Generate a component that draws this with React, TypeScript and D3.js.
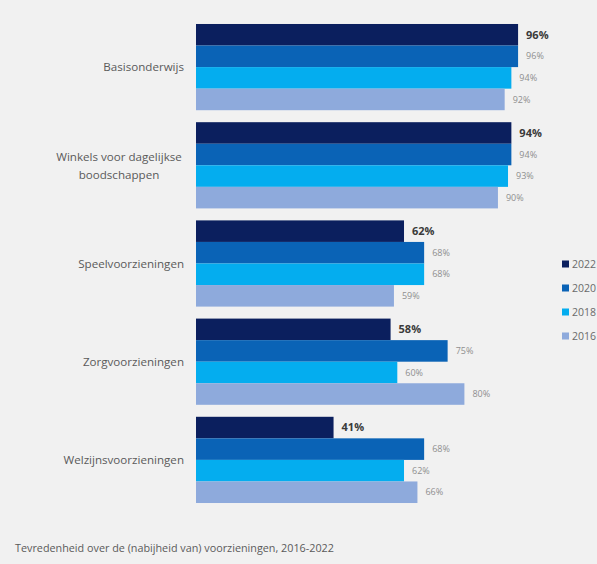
import React from "react";
import * as d3 from "d3";

const categories = [
  "Basisonderwijs",
  "Winkels voor dagelijkse boodschappen",
  "Speelvoorzieningen",
  "Zorgvoorzieningen",
  "Welzijnsvoorzieningen",
];
const categoryLines: string[][] = [
  ["Basisonderwijs"],
  ["Winkels voor dagelijkse", "boodschappen"],
  ["Speelvoorzieningen"],
  ["Zorgvoorzieningen"],
  ["Welzijnsvoorzieningen"],
];
const years = ["2022", "2020", "2018", "2016"];
const values2022 = [96, 94, 62, 58, 41];
const values2020 = [96, 94, 68, 75, 68];
const values2018 = [94, 93, 68, 60, 62];
const values2016 = [92, 90, 59, 80, 66];
const seriesValues = [values2022, values2020, values2018, values2016];
const colors = ["#0b1f5e", "#0a63b6", "#04adef", "#8eaadc"];
const caption = "Tevredenheid over de (nabijheid van) voorzieningen, 2016-2022";

const W = 597;
const H = 564;

export default function App() {
  const x = d3.scaleLinear().domain([0, 100]).range([196, 531.5]);
  const y = d3
    .scaleBand<string>()
    .domain(categories)
    .range([18, 509])
    .paddingInner(0.122)
    .paddingOuter(0.061);
  const yInner = d3.scaleBand<string>().domain(years).range([0, y.bandwidth()]);
  const legendY = d3.scalePoint<string>().domain(years).range([264, 336]);
  const font = "'Open Sans', sans-serif";

  return (
    <svg
      width={W}
      height={H}
      style={{ position: "absolute", left: 0, top: 0, display: "block" }}
      fontFamily={font}
    >
      <rect x={0} y={0} width={W} height={H} fill="#f1f1f1" />
      {categories.map((c, ci) => {
        const y0 = y(c)!;
        const cy = y0 + y.bandwidth() / 2;
        const lines = categoryLines[ci];
        return (
          <g key={c}>
            {years.map((yr, si) => {
              const v = seriesValues[si][ci];
              const by = y0 + yInner(yr)!;
              const bold = si === 0;
              return (
                <g key={yr}>
                  <rect
                    x={x(0)}
                    y={by}
                    width={x(v) - x(0)}
                    height={yInner.bandwidth()}
                    fill={colors[si]}
                  />
                  <text
                    x={x(v) + 8}
                    y={by + yInner.bandwidth() / 2}
                    dy="0.35em"
                    fontSize={bold ? 11 : 9}
                    fontWeight={bold ? 700 : 400}
                    fill={bold ? "#3a3a3a" : "#8f8f8f"}
                  >
                    {v}%
                  </text>
                </g>
              );
            })}
            {lines.length === 1 ? (
              <text
                x={184}
                y={cy}
                dy="0.35em"
                textAnchor="end"
                fontSize={11.6}
                fill="#5a5a5a"
              >
                {lines[0]}
              </text>
            ) : (
              <g>
                <text
                  x={119}
                  y={cy - 8}
                  dy="0.35em"
                  textAnchor="middle"
                  fontSize={11.6}
                  fill="#5a5a5a"
                >
                  {lines[0]}
                </text>
                <text
                  x={119}
                  y={cy + 10}
                  dy="0.35em"
                  textAnchor="middle"
                  fontSize={11.6}
                  fill="#5a5a5a"
                >
                  {lines[1]}
                </text>
              </g>
            )}
          </g>
        );
      })}
      {years.map((yr, si) => (
        <g key={yr}>
          <rect x={562} y={legendY(yr)! - 3.5} width={7} height={7} fill={colors[si]} />
          <text x={572} y={legendY(yr)!} dy="0.35em" fontSize={10.5} fill="#6a6a6a">
            {yr}
          </text>
        </g>
      ))}
      <text x={15} y={548} dy="0.35em" fontSize={10.8} fill="#5a5a5a">
        {caption}
      </text>
    </svg>
  );
}
